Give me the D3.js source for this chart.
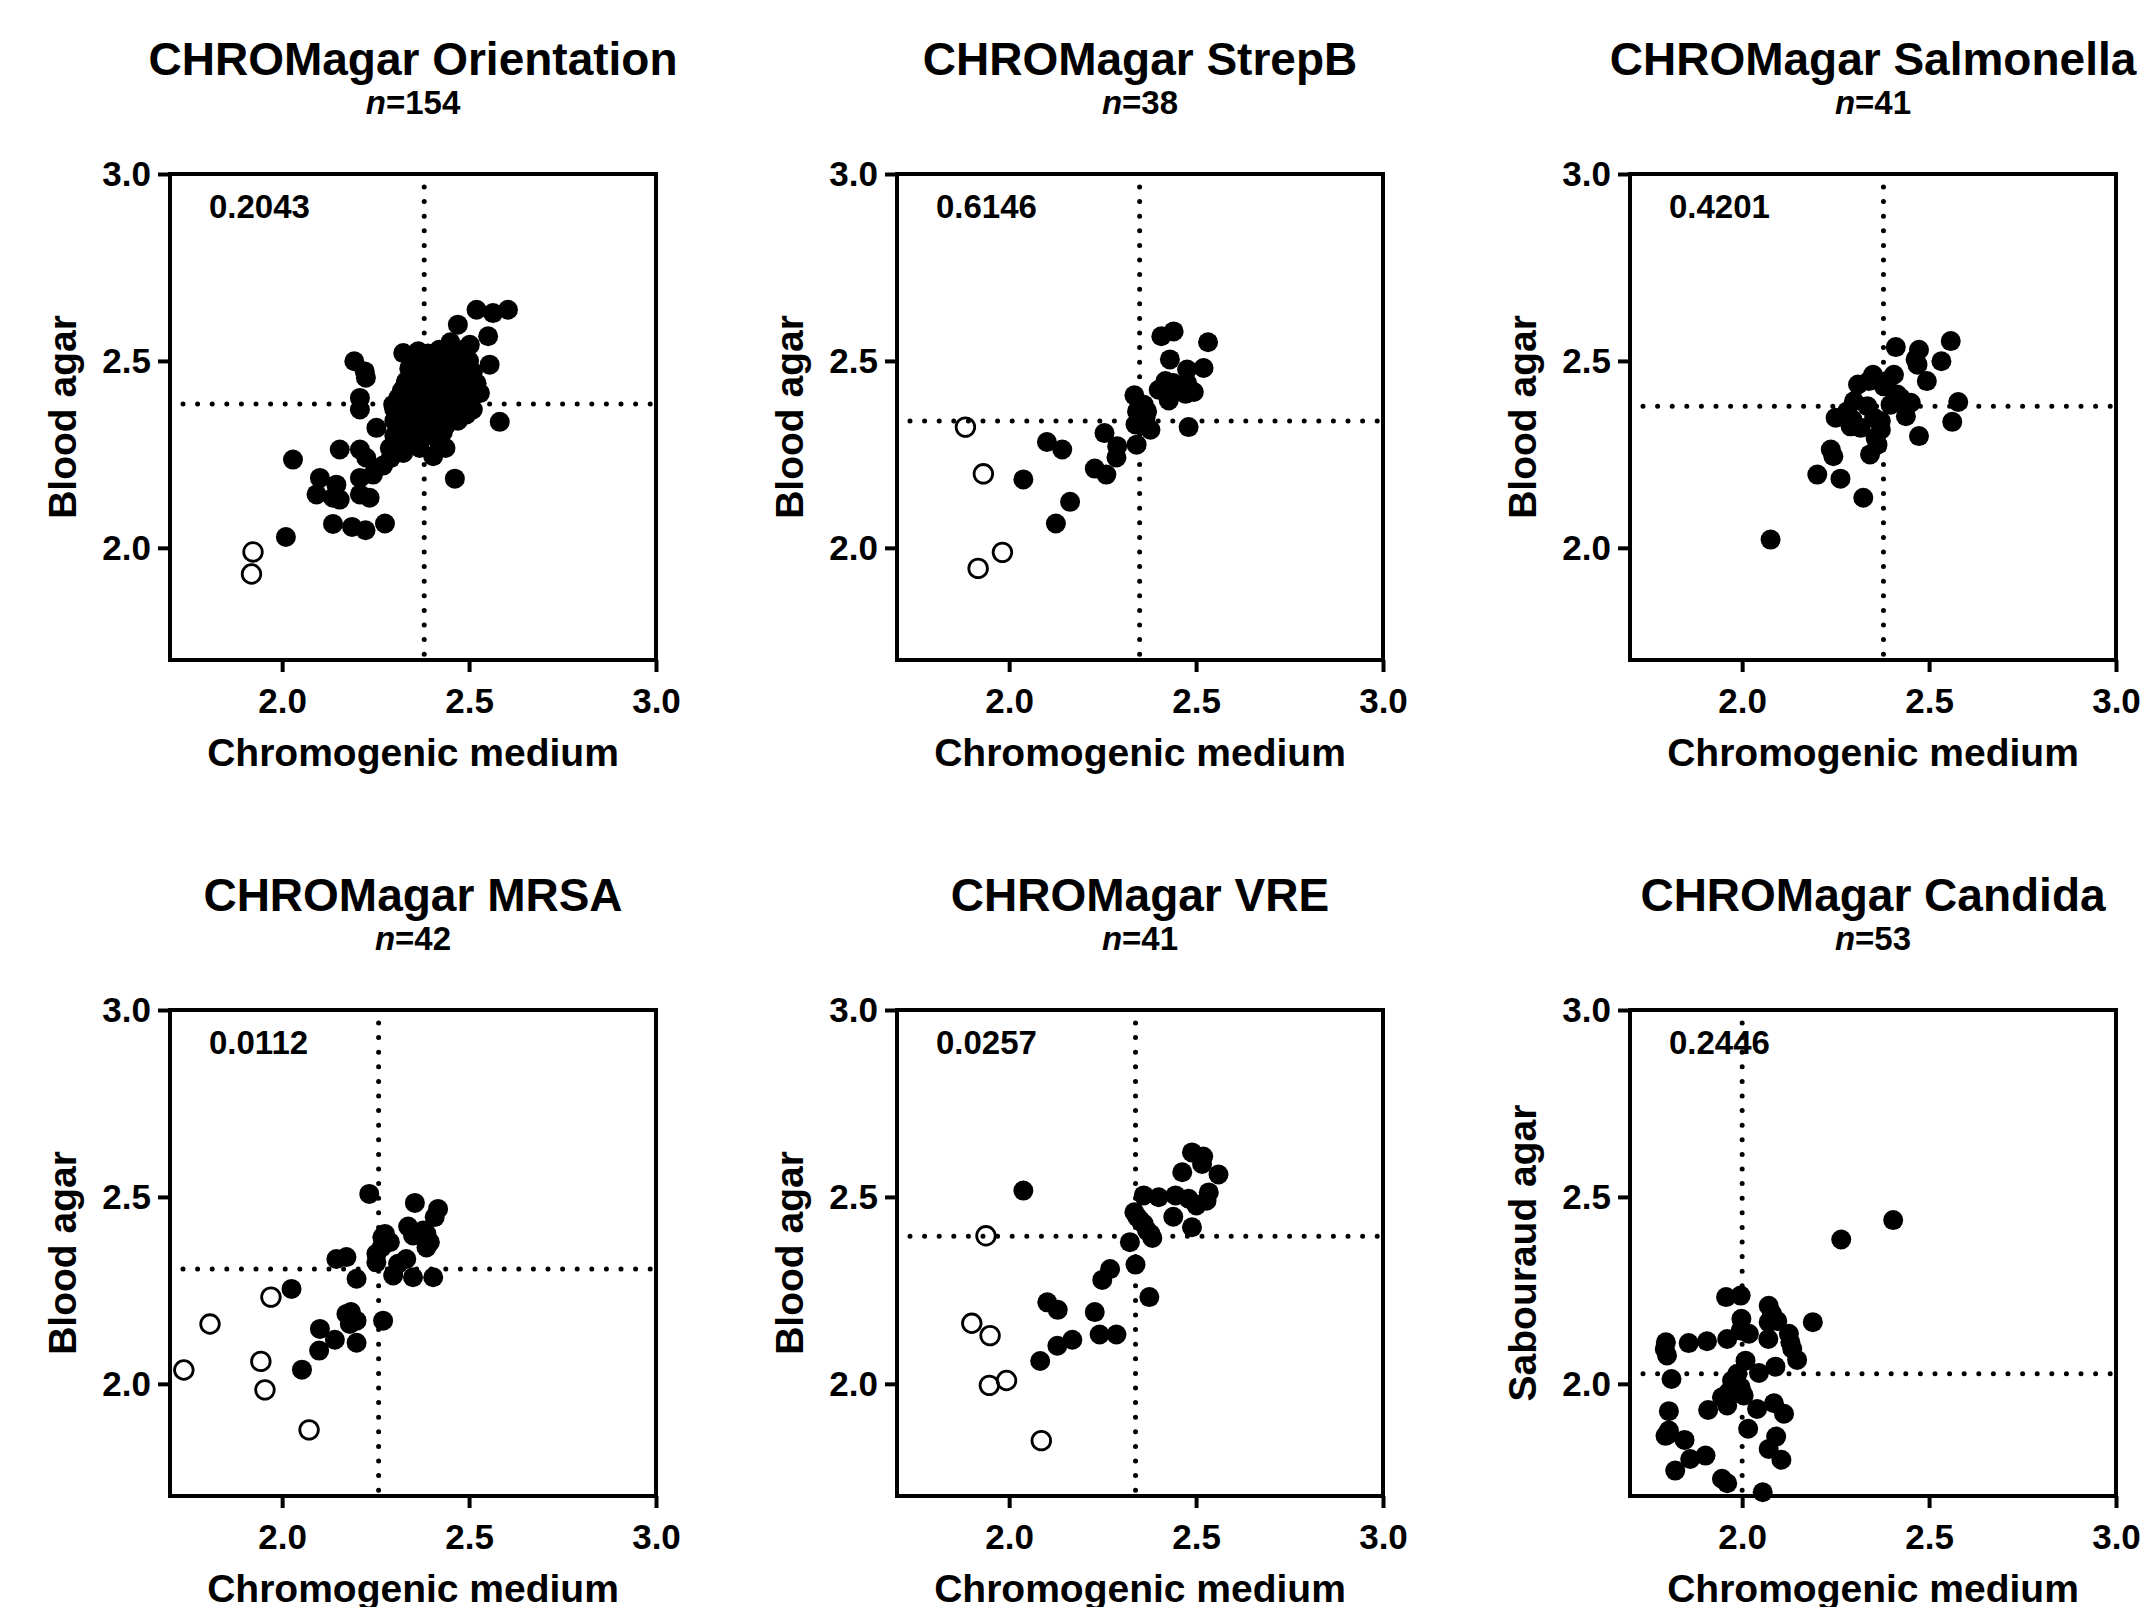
<!DOCTYPE html>
<html>
<head>
<meta charset="utf-8">
<script src="https://cdn.jsdelivr.net/npm/d3@7.9.0/dist/d3.min.js"></script>
<style>
  body { margin: 0; background: #fff; }
  svg { display: block; }
  text { font-family: "Liberation Sans", Arial, sans-serif; font-weight: bold; fill: #000; }
</style>
</head>
<body>
<svg id="chart" width="2149" height="1607"></svg>
<script>
// panel texts
const titles = ['CHROMagar Orientation', 'CHROMagar StrepB', 'CHROMagar Salmonella',
                'CHROMagar MRSA', 'CHROMagar VRE', 'CHROMagar Candida'];
const nCounts = [154, 38, 41, 42, 41, 53];
const pValues = ['0.2043', '0.6146', '0.4201', '0.0112', '0.0257', '0.2446'];
const yLabels = ['Blood agar', 'Blood agar', 'Blood agar', 'Blood agar', 'Blood agar', 'Sabouraud agar'];
const xLabel = 'Chromogenic medium';
const xTicks = [2.0, 2.5, 3.0];
const yTicks = [2.0, 2.5, 3.0];
// dotted reference lines (medians)
const refX = [2.380, 2.349, 2.378, 2.258, 2.338, 2.000];
const refY = [2.385, 2.339, 2.379, 2.307, 2.395, 2.027];

// [chromogenic, blood/sabouraud]
const orientationOpen = [[1.922, 1.989], [1.918, 1.930]];
const orientationFilled = [
  [2.010, 2.029], [2.029, 2.236], [2.136, 2.064], [2.187, 2.056], [2.223, 2.047], [2.275, 2.065],
  [2.462, 2.185], [2.582, 2.337], [2.193, 2.499], [2.221, 2.472], [2.224, 2.455], [2.208, 2.401],
  [2.208, 2.370], [2.252, 2.321], [2.154, 2.263], [2.208, 2.263], [2.101, 2.187], [2.092, 2.143],
  [2.136, 2.134], [2.145, 2.169], [2.208, 2.143], [2.234, 2.134], [2.243, 2.196], [2.208, 2.187],
  [2.225, 2.241], [2.154, 2.129], [2.297, 2.383], [2.324, 2.521], [2.364, 2.526], [2.332, 2.446],
  [2.470, 2.597], [2.520, 2.637], [2.564, 2.628], [2.604, 2.637], [2.551, 2.566], [2.555, 2.490],
  [2.529, 2.414], [2.493, 2.357], [2.422, 2.272], [2.404, 2.245], [2.368, 2.267], [2.324, 2.254],
  [2.288, 2.267], [2.350, 2.312], [2.270, 2.220], [2.290, 2.240], [2.437, 2.267], [2.510, 2.370],
  [2.502, 2.543], [2.457, 2.526],
  [2.30, 2.30], [2.30, 2.34], [2.30, 2.37], [2.31, 2.32], [2.31, 2.36], [2.31, 2.40],
  [2.32, 2.29], [2.32, 2.33], [2.32, 2.38], [2.32, 2.42], [2.33, 2.31], [2.33, 2.35],
  [2.33, 2.40], [2.33, 2.44], [2.34, 2.28], [2.34, 2.33], [2.34, 2.37], [2.34, 2.42],
  [2.34, 2.48], [2.35, 2.30], [2.35, 2.35], [2.35, 2.39], [2.35, 2.44], [2.35, 2.50],
  [2.36, 2.32], [2.36, 2.37], [2.36, 2.41], [2.36, 2.46], [2.37, 2.29], [2.37, 2.34],
  [2.37, 2.39], [2.37, 2.43], [2.37, 2.48], [2.38, 2.31], [2.38, 2.36], [2.38, 2.41],
  [2.38, 2.45], [2.38, 2.50], [2.39, 2.33], [2.39, 2.38], [2.39, 2.43], [2.39, 2.47],
  [2.39, 2.52], [2.40, 2.30], [2.40, 2.35], [2.40, 2.40], [2.40, 2.44], [2.40, 2.49],
  [2.41, 2.32], [2.41, 2.37], [2.41, 2.42], [2.41, 2.46], [2.41, 2.51], [2.42, 2.34],
  [2.42, 2.39], [2.42, 2.43], [2.42, 2.48], [2.42, 2.53], [2.43, 2.31], [2.43, 2.36],
  [2.43, 2.41], [2.43, 2.45], [2.43, 2.50], [2.44, 2.33], [2.44, 2.38], [2.44, 2.43],
  [2.44, 2.47], [2.44, 2.52], [2.45, 2.35], [2.45, 2.40], [2.45, 2.45], [2.45, 2.49],
  [2.45, 2.55], [2.46, 2.37], [2.46, 2.42], [2.46, 2.47], [2.46, 2.51], [2.47, 2.34],
  [2.47, 2.39], [2.47, 2.44], [2.47, 2.49], [2.47, 2.53], [2.48, 2.41], [2.48, 2.46],
  [2.48, 2.51], [2.49, 2.38], [2.49, 2.43], [2.49, 2.48], [2.50, 2.45], [2.50, 2.50],
  [2.51, 2.41], [2.51, 2.47], [2.52, 2.44]
];

const strepOpen = [[1.883, 2.323], [1.931, 2.198], [1.982, 1.988], [1.917, 1.945]];
const strepFilled = [
  [2.038, 2.183], [2.101, 2.283], [2.142, 2.263], [2.163, 2.123], [2.125, 2.065], [2.229, 2.212],
  [2.260, 2.196], [2.255, 2.307], [2.289, 2.272], [2.287, 2.242], [2.341, 2.276], [2.335, 2.408],
  [2.360, 2.383], [2.342, 2.365], [2.338, 2.330], [2.378, 2.316], [2.480, 2.323], [2.407, 2.566],
  [2.440, 2.579], [2.532, 2.550], [2.430, 2.504], [2.476, 2.477], [2.520, 2.481], [2.400, 2.423],
  [2.439, 2.441], [2.427, 2.394], [2.472, 2.412], [2.494, 2.417], [2.476, 2.441], [2.365, 2.348],
  [2.418, 2.446], [2.449, 2.430], [2.369, 2.365], [2.351, 2.339]
];

const salmonellaOpen = [];
const salmonellaFilled = [
  [2.076, 2.022], [2.201, 2.196], [2.263, 2.185], [2.324, 2.134], [2.237, 2.263], [2.244, 2.245],
  [2.342, 2.250], [2.362, 2.276], [2.250, 2.348], [2.295, 2.343], [2.290, 2.325], [2.335, 2.379],
  [2.353, 2.348], [2.371, 2.316], [2.371, 2.339], [2.310, 2.437], [2.350, 2.463], [2.379, 2.432],
  [2.406, 2.463], [2.411, 2.537], [2.424, 2.401], [2.451, 2.388], [2.438, 2.352], [2.473, 2.299],
  [2.473, 2.530], [2.469, 2.490], [2.494, 2.446], [2.533, 2.499], [2.558, 2.553], [2.578, 2.390],
  [2.562, 2.337], [2.415, 2.410], [2.281, 2.365], [2.317, 2.321], [2.388, 2.446], [2.339, 2.446],
  [2.397, 2.383], [2.442, 2.383], [2.299, 2.392], [2.357, 2.294], [2.464, 2.504]
];

const mrsaOpen = [[1.737, 2.037], [1.807, 2.160], [1.970, 2.232], [1.943, 2.060], [1.954, 1.984], [2.072, 1.877]];
const mrsaFilled = [
  [2.025, 2.254], [2.053, 2.038], [2.099, 2.089], [2.101, 2.147], [2.141, 2.118], [2.199, 2.110],
  [2.184, 2.192], [2.199, 2.169], [2.181, 2.160], [2.270, 2.169], [2.199, 2.281], [2.145, 2.334],
  [2.172, 2.339], [2.233, 2.508], [2.252, 2.325], [2.268, 2.392], [2.288, 2.379], [2.266, 2.365],
  [2.297, 2.290], [2.332, 2.334], [2.350, 2.285], [2.404, 2.285], [2.337, 2.421], [2.355, 2.484],
  [2.377, 2.410], [2.386, 2.365], [2.395, 2.379], [2.417, 2.468], [2.408, 2.446], [2.377, 2.392],
  [2.350, 2.397], [2.275, 2.401], [2.252, 2.348], [2.172, 2.187], [2.386, 2.401], [2.310, 2.321]
];

const vreOpen = [[1.938, 2.396], [1.900, 2.162], [1.949, 2.129], [1.993, 2.009], [1.947, 1.996], [2.086, 1.848]];
const vreFilled = [
  [2.038, 2.517], [2.083, 2.061], [2.129, 2.102], [2.169, 2.118], [2.102, 2.218], [2.130, 2.198],
  [2.242, 2.132], [2.287, 2.132], [2.229, 2.192], [2.249, 2.278], [2.270, 2.307], [2.338, 2.319],
  [2.375, 2.232], [2.323, 2.379], [2.383, 2.390], [2.369, 2.410], [2.343, 2.446], [2.335, 2.459],
  [2.360, 2.504], [2.400, 2.499], [2.445, 2.504], [2.439, 2.447], [2.489, 2.419], [2.480, 2.495],
  [2.501, 2.477], [2.528, 2.490], [2.534, 2.512], [2.463, 2.566], [2.489, 2.619], [2.519, 2.608],
  [2.516, 2.588], [2.560, 2.560], [2.351, 2.437], [2.378, 2.401], [2.360, 2.428]
];

const candidaOpen = [];
const candidaFilled = [
  [2.404, 2.438], [2.265, 2.386], [2.189, 2.165], [1.957, 2.232], [1.996, 2.236], [2.071, 2.209],
  [2.080, 2.187], [2.094, 2.168], [1.998, 2.174], [2.071, 2.165], [2.125, 2.134], [2.129, 2.111],
  [2.134, 2.094], [2.147, 2.064], [2.070, 2.120], [2.018, 2.134], [1.996, 2.143], [1.960, 2.120],
  [1.906, 2.114], [1.857, 2.109], [1.796, 2.111], [1.799, 2.076], [1.811, 2.013], [2.009, 2.062],
  [2.089, 2.046], [2.045, 2.029], [1.973, 2.009], [1.996, 1.991], [1.946, 1.964], [1.960, 1.942],
  [2.004, 1.969], [2.040, 1.933], [2.085, 1.948], [2.112, 1.920], [1.909, 1.930], [1.804, 1.927],
  [1.804, 1.866], [1.846, 1.850], [1.861, 1.799], [1.902, 1.808], [1.821, 1.768], [1.946, 1.746],
  [1.960, 1.734], [2.016, 1.880], [2.091, 1.859], [2.071, 1.826], [2.105, 1.797], [2.055, 1.710],
  [1.793, 2.093], [1.804, 1.875], [1.987, 2.027], [1.795, 1.861], [1.964, 1.978]
];

const filledSets = [orientationFilled, strepFilled, salmonellaFilled, mrsaFilled, vreFilled, candidaFilled];
const openSets = [orientationOpen, strepOpen, salmonellaOpen, mrsaOpen, vreOpen, candidaOpen];

// layout
const size = 486;
const colLeft = [170, 897, 1630];
const rowTop = [174, 1010];

const svg = d3.select('#chart');
svg.append('rect').attr('width', 2149).attr('height', 1607).attr('fill', '#fff');

const x = d3.scaleLinear().domain([1.7, 3.0]).range([0, size]);
const y = d3.scaleLinear().domain([1.7, 3.0]).range([size, 0]);
const fmt = d3.format('.1f');

titles.forEach((title, i) => {
  const g = svg.append('g')
    .attr('transform', `translate(${colLeft[i % 3]},${rowTop[Math.floor(i / 3)]})`);

  // titles
  g.append('text')
    .attr('x', size / 2).attr('y', -99)
    .attr('text-anchor', 'middle')
    .attr('font-size', 46)
    .text(title);
  const nt = g.append('text')
    .attr('x', size / 2).attr('y', -60)
    .attr('text-anchor', 'middle')
    .attr('font-size', 33);
  nt.append('tspan').attr('font-style', 'italic').text('n');
  nt.append('tspan').text('=' + nCounts[i]);

  // axes
  const xa = g.append('g')
    .attr('transform', `translate(0,${size})`)
    .call(d3.axisBottom(x).tickValues(xTicks).tickFormat(fmt).tickSize(12).tickPadding(16).tickSizeOuter(0));
  const ya = g.append('g')
    .call(d3.axisLeft(y).tickValues(yTicks).tickFormat(fmt).tickSize(12).tickPadding(7).tickSizeOuter(0));
  [xa, ya].forEach(a => {
    a.select('.domain').remove();
    a.selectAll('line').attr('stroke', '#000').attr('stroke-width', 4);
    a.selectAll('text').attr('font-size', 35).attr('font-family', '"Liberation Sans", Arial, sans-serif').attr('font-weight', 'bold');
  });

  // frame
  g.append('rect')
    .attr('width', size).attr('height', size)
    .attr('fill', 'none').attr('stroke', '#000').attr('stroke-width', 4);

  // axis titles
  g.append('text')
    .attr('x', size / 2).attr('y', size + 106)
    .attr('text-anchor', 'middle')
    .attr('font-size', 39)
    .text(xLabel);
  g.append('text')
    .attr('transform', `translate(-94,${size / 2}) rotate(-90)`)
    .attr('text-anchor', 'middle')
    .attr('font-size', 39)
    .text(yLabels[i]);

  // p value
  g.append('text')
    .attr('x', 39).attr('y', 44)
    .attr('font-size', 33)
    .text(pValues[i]);

  // dotted median lines
  g.append('line')
    .attr('x1', x(refX[i])).attr('x2', x(refX[i]))
    .attr('y1', y(3.0) + 13).attr('y2', y(1.7))
    .attr('stroke', '#000').attr('stroke-width', 5)
    .attr('stroke-linecap', 'round').attr('stroke-dasharray', '0 14.6');
  g.append('line')
    .attr('x1', x(1.7) + 13).attr('x2', x(3.0))
    .attr('y1', y(refY[i])).attr('y2', y(refY[i]))
    .attr('stroke', '#000').attr('stroke-width', 5)
    .attr('stroke-linecap', 'round').attr('stroke-dasharray', '0 14.6');

  // points
  g.append('g').selectAll('circle')
    .data(filledSets[i])
    .join('circle')
    .attr('cx', d => x(d[0])).attr('cy', d => y(d[1]))
    .attr('r', 10).attr('fill', '#000');
  g.append('g').selectAll('circle')
    .data(openSets[i])
    .join('circle')
    .attr('cx', d => x(d[0])).attr('cy', d => y(d[1]))
    .attr('r', 9.3).attr('fill', 'none').attr('stroke', '#000').attr('stroke-width', 2.8);
});
</script>
</body>
</html>
